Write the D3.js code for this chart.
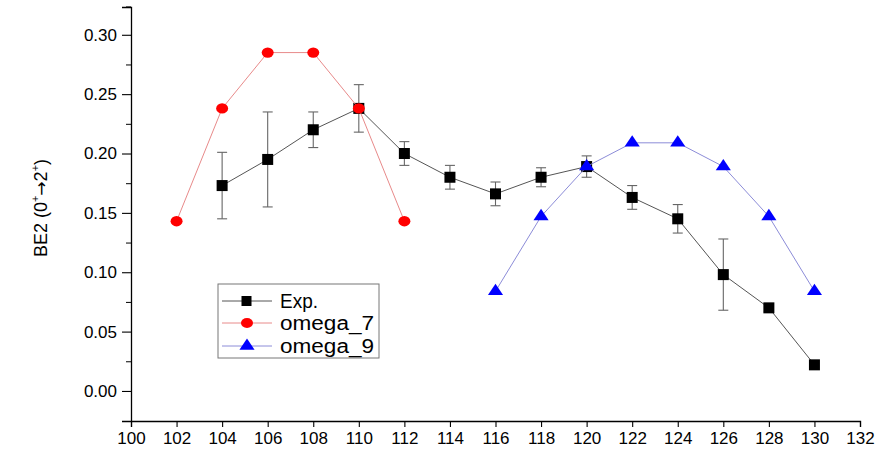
<!DOCTYPE html>
<html>
<head>
<meta charset="utf-8">
<script src="https://cdn.jsdelivr.net/npm/d3@7"></script>
<style>
  body { margin: 0; background: #fff; }
  svg { display: block; font-family: "Liberation Sans", Arial, sans-serif; }
</style>
</head>
<body>
<svg width="877" height="452"></svg>
<script>
// data
var xExp = [104, 106, 108, 110, 112, 114, 116, 118, 120, 122, 124, 126, 128, 130];
var yExp = [0.173, 0.195, 0.220, 0.238, 0.200, 0.180, 0.166, 0.180, 0.189, 0.163, 0.145, 0.098, 0.070, 0.022];
var errExp = [0.028, 0.040, 0.015, 0.020, 0.010, 0.010, 0.010, 0.008, 0.009, 0.010, 0.012, 0.030, 0.003, 0];

var xOmega7 = [102, 104, 106, 108, 110, 112];
var yOmega7 = [0.143, 0.238, 0.285, 0.285, 0.238, 0.143];

var xOmega9 = [116, 118, 120, 122, 124, 126, 128, 130];
var yOmega9 = [0.084, 0.147, 0.189, 0.209, 0.209, 0.189, 0.147, 0.084];

var xTicks = d3.range(100, 133, 2);
var yTicks = [0, 0.05, 0.10, 0.15, 0.20, 0.25, 0.30];
var yMinor = [0.025, 0.075, 0.125, 0.175, 0.225, 0.275];

var svg = d3.select("svg");
var plotLeft = 131, plotRight = 860, plotTop = 7, plotBottom = 421;

var x = d3.scaleLinear().domain([100, 132]).range([plotLeft, plotRight]);
var y = d3.scaleLinear().domain([-0.0253, 0.3234]).range([plotBottom, plotTop]);

// axes
var xAxis = svg.append("g")
    .attr("transform", "translate(0," + plotBottom + ")")
    .call(d3.axisBottom(x).tickValues(xTicks).tickSize(6).tickPadding(5).tickFormat(d3.format("d")));
var yAxis = svg.append("g")
    .attr("transform", "translate(" + plotLeft + ",0)")
    .call(d3.axisLeft(y).tickValues(yTicks).tickSize(9).tickPadding(5).tickFormat(d3.format(".2f")));
svg.append("g")
    .attr("transform", "translate(" + plotLeft + ",0)")
    .call(d3.axisLeft(y).tickValues(yMinor).tickSize(5).tickFormat(""))
    .select(".domain").remove();

[xAxis, yAxis].forEach(function(a) {
  a.attr("font-size", 17).attr("font-family", "'Liberation Sans', Arial, sans-serif");
  a.selectAll("path.domain").attr("stroke", "#000").attr("stroke-width", 1.3);
  a.selectAll("line").attr("stroke", "#000").attr("stroke-width", 1.1);
  a.selectAll("text").attr("fill", "#000");
});
// cap at top of y axis
svg.append("line")
    .attr("x1", plotLeft - 5).attr("x2", plotLeft)
    .attr("y1", plotTop).attr("y2", plotTop)
    .attr("stroke", "#000").attr("stroke-width", 1.1);

// y label
var yl = svg.append("text")
    .attr("transform", "translate(47,208) rotate(-90)")
    .attr("text-anchor", "middle")
    .attr("font-size", 18);
yl.append("tspan").text("BE2 (0");
yl.append("tspan").attr("dy", -8).attr("font-size", 11).text("+");
yl.append("tspan").attr("dy", 8).attr("font-family", "'DejaVu Sans', sans-serif").attr("font-size", 17).text("\u2192");
yl.append("tspan").text("2");
yl.append("tspan").attr("dy", -8).attr("font-size", 11).text("+");
yl.append("tspan").attr("dy", 8).text(")");

var line = d3.line().x(function(d) { return x(d[0]); }).y(function(d) { return y(d[1]); });

var expData = d3.zip(xExp, yExp, errExp);
var o7Data = d3.zip(xOmega7, yOmega7);
var o9Data = d3.zip(xOmega9, yOmega9);

// Exp line + error bars
svg.append("path").datum(expData).attr("d", line)
    .attr("fill", "none").attr("stroke", "#555").attr("stroke-width", 1);

var eb = svg.append("g").attr("stroke", "#666").attr("stroke-width", 1.1);
expData.filter(function(d) { return d[2] > 0; }).forEach(function(d) {
  var cx = x(d[0]);
  eb.append("line").attr("x1", cx).attr("x2", cx).attr("y1", y(d[1] - d[2])).attr("y2", y(d[1] + d[2]));
  eb.append("line").attr("x1", cx - 5).attr("x2", cx + 5).attr("y1", y(d[1] - d[2])).attr("y2", y(d[1] - d[2]));
  eb.append("line").attr("x1", cx - 5).attr("x2", cx + 5).attr("y1", y(d[1] + d[2])).attr("y2", y(d[1] + d[2]));
});

svg.append("g").selectAll("rect").data(expData).enter().append("rect")
    .attr("x", function(d) { return x(d[0]) - 5.5; })
    .attr("y", function(d) { return y(d[1]) - 5.5; })
    .attr("width", 11).attr("height", 11)
    .attr("fill", "#000");

// omega_7
svg.append("path").datum(o7Data).attr("d", line)
    .attr("fill", "none").attr("stroke", "#e88a8a").attr("stroke-width", 1);
svg.append("g").selectAll("ellipse").data(o7Data).enter().append("ellipse")
    .attr("cx", function(d) { return x(d[0]); })
    .attr("cy", function(d) { return y(d[1]); })
    .attr("rx", 6).attr("ry", 5.2)
    .attr("fill", "#f00");

// omega_9
var tri = d3.symbol().type(d3.symbolTriangle).size(75);
svg.append("path").datum(o9Data).attr("d", line)
    .attr("fill", "none").attr("stroke", "#8c8cd8").attr("stroke-width", 1);
svg.append("g").selectAll("path").data(o9Data).enter().append("path")
    .attr("d", tri)
    .attr("transform", function(d) { return "translate(" + x(d[0]) + "," + y(d[1]) + ") scale(1.15,1)"; })
    .attr("fill", "#00f");

// legend
var lg = svg.append("g");
lg.append("rect").attr("x", 218).attr("y", 284).attr("width", 161).attr("height", 74)
    .attr("fill", "#fff").attr("stroke", "#777").attr("stroke-width", 1);
var items = [
  {name: "Exp.", color: "#555", yy: 301, w: 38},
  {name: "omega_7", color: "#e88a8a", yy: 323, w: 94},
  {name: "omega_9", color: "#8c8cd8", yy: 346, w: 94}
];
items.forEach(function(it, i) {
  lg.append("line").attr("x1", 222).attr("x2", 272).attr("y1", it.yy).attr("y2", it.yy)
      .attr("stroke", it.color).attr("stroke-width", 1);
  if (i == 0) {
    lg.append("rect").attr("x", 241.5).attr("y", it.yy - 5).attr("width", 10).attr("height", 10).attr("fill", "#000");
  } else if (i == 1) {
    lg.append("ellipse").attr("cx", 247).attr("cy", it.yy).attr("rx", 6).attr("ry", 5).attr("fill", "#f00");
  } else {
    lg.append("path").attr("d", tri).attr("transform", "translate(247," + it.yy + ") scale(1.15,1)").attr("fill", "#00f");
  }
  lg.append("text").attr("x", 280).attr("y", it.yy + 7).attr("font-size", 20)
      .attr("textLength", it.w).attr("lengthAdjust", "spacingAndGlyphs").text(it.name);
});
</script>
</body>
</html>
